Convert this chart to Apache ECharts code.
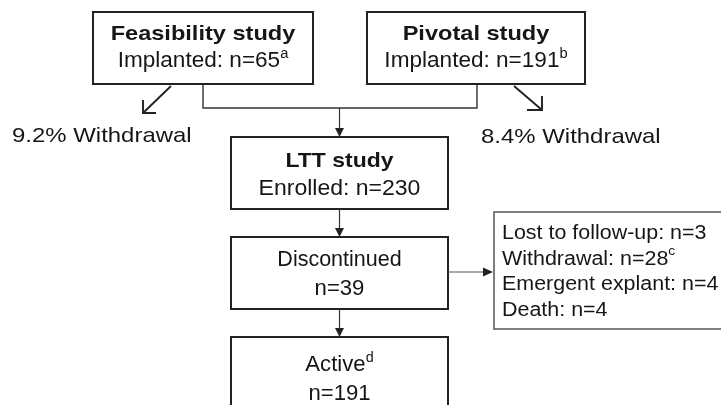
<!DOCTYPE html>
<html><head><meta charset="utf-8">
<script src="https://cdn.jsdelivr.net/npm/echarts@6/dist/echarts.min.js"></script>
<style>html,body{margin:0;padding:0;background:#fff;overflow:hidden}#c{width:721px;height:405px}</style>
</head><body><div id="c"></div>
<script>
// ---- data ----
const studies = ['Feasibility study', 'Pivotal study'];
const implanted = [65, 191];
const implantedNotes = ['a', 'b'];
const withdrawalPct = [9.2, 8.4];
const lttLabel = 'LTT study';
const enrolled = 230;
const discontinued = 39;
const activeCount = 191;
const activeNote = 'd';
const reasons = ['Lost to follow-up', 'Withdrawal', 'Emergent explant', 'Death'];
const reasonCounts = [3, 28, 4, 4];
const reasonNotes = ['', 'c', '', ''];

// ---- styling / layout ----
const FONT = '"Liberation Sans", Arial, Helvetica, sans-serif';
const INK = '#161616';
const BOX = '#222';

function label(x, baseline, text, o) {
  const fs = o.size;
  return {
    type: 'text', x: x, y: baseline - 0.27 * fs, scaleX: o.sx || 1, silent: true, z: 10,
    style: {
      text: text, fill: INK, fontFamily: FONT, fontSize: fs,
      fontWeight: o.bold ? 'bold' : 'normal',
      align: o.align || 'center', textAlign: o.align || 'center',
      verticalAlign: 'middle', textVerticalAlign: 'middle',
      lineHeight: 28,
      rich: {
        s: { fontSize: o.supSize || 14, lineHeight: o.supSize || 14, verticalAlign: 'top', fill: INK, fontFamily: FONT }
      }
    }
  };
}
function rect(x, y, w, h, stroke, lw) {
  return { type: 'rect', shape: { x: x, y: y, width: w, height: h }, silent: true,
    style: { fill: '#fff', stroke: stroke, lineWidth: lw } };
}
function line(points, stroke, lw) {
  return { type: 'polyline', shape: { points: points }, silent: true,
    style: { stroke: stroke, lineWidth: lw, fill: null } };
}
function headDown(x, yTip) {
  return { type: 'polygon', silent: true, shape: { points: [[x - 4.5, yTip - 9], [x + 4.5, yTip - 9], [x, yTip]] }, style: { fill: BOX } };
}
function headRight(xTip, y) {
  return { type: 'polygon', silent: true, shape: { points: [[xTip - 10, y - 4.5], [xTip - 10, y + 4.5], [xTip, y]] }, style: { fill: BOX } };
}

const boxes = [
  { x: 93, y: 12, w: 220, h: 72 },   // feasibility
  { x: 367, y: 12, w: 218, h: 72 },  // pivotal
];
const g = [];

// study boxes
boxes.forEach((b, i) => {
  g.push(rect(b.x, b.y, b.w, b.h, BOX, 2));
  const cx = b.x + b.w / 2;
  g.push(label(cx, 40, studies[i], { size: 20.5, bold: true, sx: 1.15 }));
  g.push(label(cx, 66.7, 'Implanted: n=' + implanted[i] + '{s|' + implantedNotes[i] + '}', { size: 21.5, sx: 1.05 }));
});

// withdrawal arrows and labels
g.push(line([[171, 86], [143, 113]], BOX, 1.9));
g.push(line([[143, 100], [143, 113], [156, 113]], BOX, 1.9));
g.push(line([[514, 86], [542, 110]], BOX, 1.9));
g.push(line([[542, 96], [542, 110], [527, 110]], BOX, 1.9));
g.push(label(12, 142.3, withdrawalPct[0].toFixed(1) + '% Withdrawal', { size: 21, sx: 1.14, align: 'left' }));
g.push(label(481, 143, withdrawalPct[1].toFixed(1) + '% Withdrawal', { size: 21, sx: 1.14, align: 'left' }));

// connector to LTT
g.push(line([[203, 84], [203, 108], [477, 108], [477, 84]], '#333', 1.4));
g.push(line([[339.5, 108], [339.5, 130]], '#333', 1.2));
g.push(headDown(339.5, 137));

// LTT box
g.push(rect(231, 137, 217, 72, BOX, 2));
g.push(label(339.5, 166.7, lttLabel, { size: 20.5, bold: true, sx: 1.12 }));
g.push(label(339.5, 195, 'Enrolled: n=' + enrolled, { size: 21.5, sx: 1.07 }));

// to discontinued
g.push(line([[339.5, 209], [339.5, 230]], '#333', 1.2));
g.push(headDown(339.5, 237));
g.push(rect(231, 237, 217, 72, BOX, 2));
g.push(label(339.5, 266, 'Discontinued', { size: 21.5, sx: 1.0 }));
g.push(label(339.5, 295, 'n=' + discontinued, { size: 21.5, sx: 1.03 }));

// to active
g.push(line([[339.5, 309], [339.5, 330]], '#333', 1.2));
g.push(headDown(339.5, 337));
g.push(rect(231, 337, 217, 100, BOX, 2));
g.push(label(339.5, 370.7, 'Active{s|' + activeNote + '}', { size: 21.5, sx: 1.03 }));
g.push(label(339.5, 400, 'n=' + activeCount, { size: 21.5, sx: 1.03 }));

// side arrow and reasons box (open towards the right edge of the picture)
g.push(line([[448, 272], [484, 272]], '#555', 1.2));
g.push(headRight(493, 272));
g.push(line([[740, 212], [494, 212], [494, 329], [740, 329]], '#555', 1.5));
reasons.forEach((r, i) => {
  g.push(label(502, 239 + i * 25.5, r + ': n=' + reasonCounts[i] + (reasonNotes[i] ? '{s|' + reasonNotes[i] + '}' : ''), { size: 19.5, sx: 1.1, align: 'left', supSize: 12.5 }));
});

const chart = echarts.init(document.getElementById('c'), null, { renderer: 'canvas' });
chart.setOption({ backgroundColor: '#fff', animation: false, graphic: { elements: g } });
</script>
</body></html>
